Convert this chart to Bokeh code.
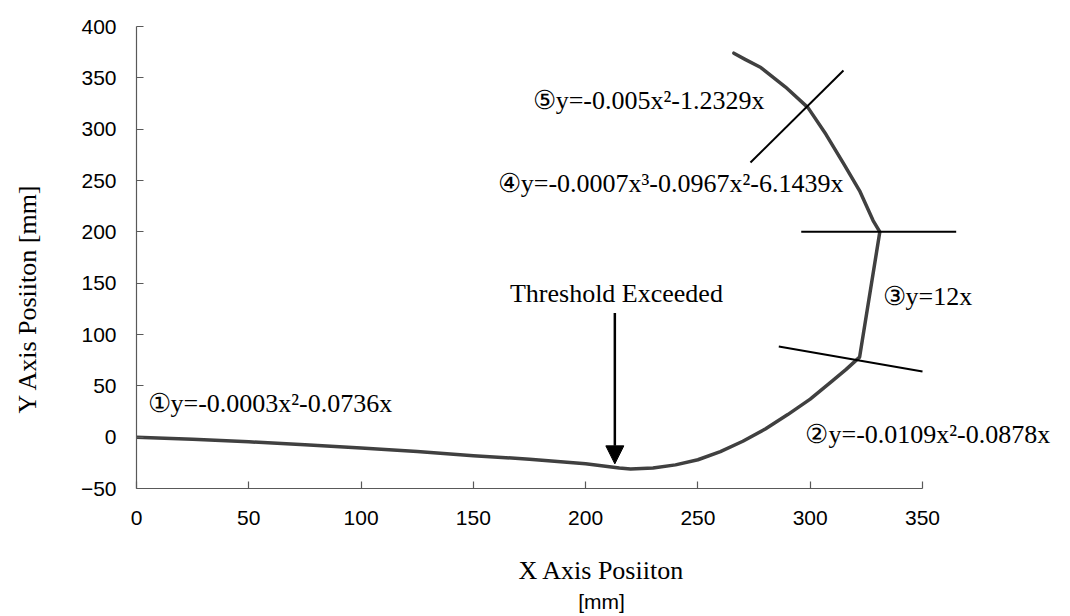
import math
from bokeh.plotting import figure
from bokeh.models import Range1d, FixedTicker, Label, Arrow, NormalHead, ColumnDataSource, Title
from bokeh.core.properties import value
from bokeh.embed import file_html
from bokeh.resources import INLINE

# ---- data ----
traj_x = [0, 25, 50, 75, 100, 125, 150, 175, 200, 215, 220, 230, 240, 250, 260, 270,
          280, 290, 300, 310, 316, 322, 331, 328, 322, 315, 307, 299, 289, 278, 271, 266]
traj_y = [0, -2, -4.5, -7.5, -10.5, -14, -18, -21.5, -26, -30, -31, -30, -27, -22, -14, -4,
          8, 22, 37, 55, 66, 78, 200, 211, 240, 266, 295, 321, 341, 360, 368, 374]

# section boundary marks
mark_x0 = [273.4, 296.0, 286.0]
mark_y0 = [267.5, 200.0, 88.3]
mark_x1 = [314.8, 365.0, 350.0]
mark_y1 = [357.1, 200.0, 64.0]

eq_text = ["①y=-0.0003x²-0.0736x", "②y=-0.0109x²-0.0878x", "③y=12x",
           "④y=-0.0007x³-0.0967x²-6.1439x", "⑤y=-0.005x²-1.2329x"]
eq_x = [4.9, 297.9, 332.2, 314.8, 279.6]
eq_y = [32.8, 2.6, 137.0, 247.0, 327.9]
eq_align = ["left", "left", "left", "right", "right"]

threshold_text = "Threshold Exceeded"
threshold_x = 213.0
threshold_y_top = 121.0
threshold_y_tip = -26.0

x_ticks = [0, 50, 100, 150, 200, 250, 300, 350]
y_ticks = [-50, 0, 50, 100, 150, 200, 250, 300, 350, 400]

SERIF = "Liberation Serif"

# ---- layout ----
W, H = 1066, 614
LEFT, TOP, FRAME_W, FRAME_H = 136, 26, 786, 462
x_end = 350 * (W - LEFT) / FRAME_W   # frame runs to the right edge so the labels there are not clipped

p = figure(width=W, height=H, x_range=Range1d(0, x_end), y_range=Range1d(-50, 400),
           output_backend="svg", toolbar_location=None,
           min_border_left=LEFT, min_border_right=0, min_border_top=TOP,
           min_border_bottom=H - TOP - FRAME_H)
p.xgrid.visible = False
p.ygrid.visible = False
p.outline_line_color = None
p.background_fill_color = "white"
p.border_fill_color = "white"

for ax in (p.xaxis[0], p.yaxis[0]):
    ax.axis_line_color = "#595959"
    ax.axis_line_width = 1.2
    ax.major_tick_line_color = "#595959"
    ax.major_tick_line_width = 1.2
    ax.major_tick_in = 7
    ax.major_tick_out = 0
    ax.minor_tick_line_color = None
    ax.major_label_text_font = "Liberation Sans"
    ax.major_label_text_font_size = "21px"
    ax.major_label_text_color = "black"

p.xaxis.ticker = FixedTicker(ticks=x_ticks)
p.yaxis.ticker = FixedTicker(ticks=y_ticks)
p.xaxis.bounds = (0, 350)
p.yaxis.major_label_overrides = {-50: "\u221250"}
p.xaxis.major_label_standoff = 22
p.yaxis.major_label_standoff = 20

p.xaxis.axis_label = "X Axis Posiiton"
p.xaxis.axis_label_text_font = SERIF
p.xaxis.axis_label_text_font_size = "26px"
p.xaxis.axis_label_text_font_style = "normal"
p.xaxis.axis_label_text_color = "black"
p.xaxis.axis_label_standoff = 28

# blank spacer label on the y axis pushes the y title further left
p.yaxis.axis_label = "\u00a0"
p.yaxis.axis_label_text_font_size = "10px"
p.yaxis.axis_label_standoff = 17

has_standoff = "standoff" in Title.properties()

t_mm = Title(text="[mm]", align="center", text_font="Liberation Sans",
             text_font_size="21px", text_font_style="normal", text_color="black")
if has_standoff:
    t_mm.standoff = 0
p.add_layout(t_mm, "below")

t_y = Title(text="Y Axis Posiiton [mm]", align="left", text_font=SERIF,
            text_font_size="26px", text_font_style="normal", text_color="black", offset=75)
p.add_layout(t_y, "left")

# trajectory
p.line(traj_x, traj_y, line_color="#404040", line_width=3.5, line_join="round", line_cap="round")

# boundary marks
p.segment(x0=mark_x0, y0=mark_y0, x1=mark_x1, y1=mark_y1, line_color="black", line_width=2)

# arrow
p.add_layout(Arrow(end=NormalHead(size=18, fill_color="black", line_color="black"),
                   x_start=threshold_x, y_start=threshold_y_top,
                   x_end=threshold_x, y_end=threshold_y_tip,
                   line_color="black", line_width=2.5))

src = ColumnDataSource(dict(x=eq_x, y=eq_y, text=eq_text, align=eq_align))
p.text(x="x", y="y", text="text", source=src, text_align="align", text_baseline="middle",
       text_font=value(SERIF), text_font_size=value("26px"), text_color="black")

p.add_layout(Label(x=213.7, y=139.9, text=threshold_text, text_align="center",
                   text_baseline="middle", text_font=SERIF, text_font_size="26px",
                   text_color="black"))

open("out.html", "w").write(file_html(p, INLINE))
